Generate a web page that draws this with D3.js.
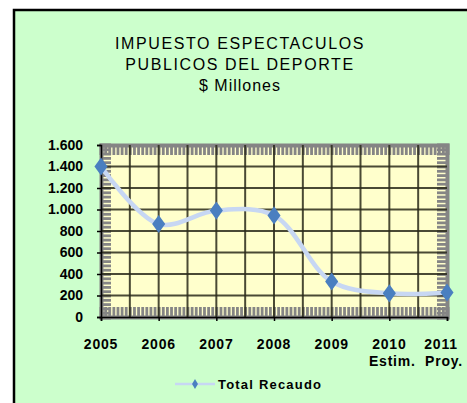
<!DOCTYPE html>
<html>
<head>
<meta charset="utf-8">
<script src="https://cdn.jsdelivr.net/npm/d3@7"></script>
<style>
  body { margin: 0; background: #fff; }
  text { font-family: "Liberation Sans", Arial, sans-serif; fill: #000; }
</style>
</head>
<body>
<div id="chart"></div>
<script>
// Data
const years = ['2005', '2006', '2007', '2008', '2009', '2010', '2011'];
const yearNotes = ['', '', '', '', '', 'Estim.', 'Proy.'];
const recaudo = [1400, 865, 990, 945, 330, 220, 228];
const yTicks = [0, 200, 400, 600, 800, 1000, 1200, 1400, 1600];
const titleLines = ['IMPUESTO ESPECTACULOS', 'PUBLICOS DEL DEPORTE', '$ Millones'];
const seriesName = 'Total Recaudo';

// Configuration
const config = {
  width: 467,
  height: 403,
  plot: { left: 101, right: 447, top: 145, bottom: 317 },
  chartBg: '#ccffcc',
  plotBg: '#ffffcc',
  lineColor: '#c7d7f3',
  markerColor: '#4a7fc0',
  frameColor: '#858585'
};

const fmt = d3.formatLocale({ decimal: ',', thousands: '.', grouping: [3], currency: ['$', ''] }).format(',d');

const svg = d3.select('#chart').append('svg')
    .attr('width', config.width)
    .attr('height', config.height);

// Chart area box (runs past the right and bottom edges)
svg.append('rect')
    .attr('x', 14).attr('y', 10)
    .attr('width', 480).attr('height', 420)
    .attr('fill', config.chartBg)
    .attr('stroke', '#000')
    .attr('stroke-width', 2.5);

// Title
svg.append('g').selectAll('text')
    .data(titleLines)
    .enter().append('text')
    .attr('x', 240)
    .attr('y', (d, i) => 49 + i * 21)
    .attr('text-anchor', 'middle')
    .style('font-size', '16px')
    .style('letter-spacing', (d, i) => i === 2 ? '1px' : '1.6px')
    .text(d => d);

const p = config.plot;
const x = d3.scalePoint().domain(years).range([p.left, p.right]);
const xi = d3.scaleLinear().domain([0, years.length - 1]).range([p.left, p.right]);
const y = d3.scaleLinear().domain([0, 1600]).range([p.bottom, p.top]);

// Plot area
svg.append('rect')
    .attr('x', p.left).attr('y', p.top)
    .attr('width', p.right - p.left).attr('height', p.bottom - p.top)
    .attr('fill', config.plotBg);

// Hatched frame made of dense minor ticks
const xMinor = d3.range(0, years.length - 1 + 1e-6, 1 / 14);
const yMinor = d3.range(0, 1601, 40);
const frame = svg.append('g').attr('class', 'frame');

frame.append('g')
    .attr('transform', `translate(0,${p.bottom})`)
    .call(d3.axisTop(xi).tickValues(xMinor).tickSize(10).tickFormat(''));
frame.append('g')
    .attr('transform', `translate(0,${p.top})`)
    .call(d3.axisBottom(xi).tickValues(xMinor).tickSize(10).tickFormat(''));
frame.append('g')
    .attr('transform', `translate(${p.left},0)`)
    .call(d3.axisRight(y).tickValues(yMinor).tickSize(10).tickFormat(''));
frame.append('g')
    .attr('transform', `translate(${p.right},0)`)
    .call(d3.axisLeft(y).tickValues(yMinor).tickSize(10).tickFormat(''));
frame.selectAll('.tick line')
    .attr('stroke', config.frameColor)
    .attr('stroke-width', 2.8);
frame.selectAll('.domain')
    .attr('stroke', config.frameColor)
    .attr('stroke-width', 4);

// Grid lines
const grid = svg.append('g').attr('class', 'grid');
grid.selectAll('.hgrid')
    .data(yTicks.filter(v => v > 0 && v < 1600))
    .enter().append('line')
    .attr('x1', p.left).attr('x2', p.right)
    .attr('y1', d => y(d)).attr('y2', d => y(d))
    .attr('stroke', '#2a2a1a')
    .attr('stroke-opacity', 0.85)
    .attr('stroke-width', 2);
grid.selectAll('.vgrid')
    .data(d3.range(0.5, years.length - 1, 0.5))
    .enter().append('line')
    .attr('x1', d => xi(d)).attr('x2', d => xi(d))
    .attr('y1', p.top).attr('y2', p.bottom)
    .attr('stroke', '#2a2a1a')
    .attr('stroke-opacity', 0.85)
    .attr('stroke-width', 2);

// Axes
const yAxis = svg.append('g')
    .attr('transform', `translate(${p.left},0)`)
    .call(d3.axisLeft(y).tickValues(yTicks).tickSize(4).tickPadding(14).tickFormat(fmt));
const xAxis = svg.append('g')
    .attr('transform', `translate(0,${p.bottom})`)
    .call(d3.axisBottom(x).tickSize(4).tickFormat(''));
[yAxis, xAxis].forEach(a => {
  a.select('.domain').attr('stroke', '#000').attr('stroke-width', 1.5);
  a.selectAll('.tick line').attr('stroke', '#000').attr('stroke-width', 1.5);
});
yAxis.selectAll('.tick text')
    .style('font-size', '14px')
    .style('font-weight', 'bold')
    .style('font-family', '"Liberation Sans", Arial, sans-serif')
    .attr('fill', '#000');

// Category labels (two lines for estimates)
const xLabels = svg.append('g').selectAll('g')
    .data(years)
    .enter().append('text')
    .attr('x', (d, i) => x(d) - (i === years.length - 1 ? 6 : 0))
    .attr('y', 349)
    .attr('text-anchor', 'middle')
    .style('font-size', '14px')
    .style('font-weight', 'bold')
    .style('letter-spacing', '0.8px');
xLabels.append('tspan').text(d => d);
xLabels.append('tspan')
    .attr('x', (d, i) => x(d) + (i === years.length - 1 ? -3 : 3))
    .attr('dy', 17)
    .text((d, i) => yearNotes[i]);

// Smoothed line
const line = d3.line()
    .x((d, i) => x(years[i]))
    .y(d => y(d))
    .curve(d3.curveCatmullRom.alpha(0.5));

svg.append('path')
    .datum(recaudo)
    .attr('d', line)
    .attr('fill', 'none')
    .attr('stroke', config.lineColor)
    .attr('stroke-width', 4.5);

const diamond = d3.symbol().type(d3.symbolDiamond).size(95);
svg.selectAll('.marker')
    .data(recaudo)
    .enter().append('path')
    .attr('class', 'marker')
    .attr('d', diamond)
    .attr('transform', (d, i) => `translate(${x(years[i])},${y(d)}) scale(1.25,1)`)
    .attr('fill', config.markerColor);

// Legend
const legend = svg.append('g').attr('transform', 'translate(175,384)');
legend.append('line')
    .attr('x1', 0).attr('x2', 40)
    .attr('stroke', config.lineColor)
    .attr('stroke-width', 2.5);
legend.append('path')
    .attr('d', d3.symbol().type(d3.symbolDiamond).size(30))
    .attr('transform', 'translate(20,0)')
    .attr('fill', config.markerColor);
legend.append('text')
    .attr('x', 43).attr('y', 5)
    .style('font-size', '13px')
    .style('font-weight', 'bold')
    .style('letter-spacing', '1.2px')
    .text(seriesName);
</script>
</body>
</html>
